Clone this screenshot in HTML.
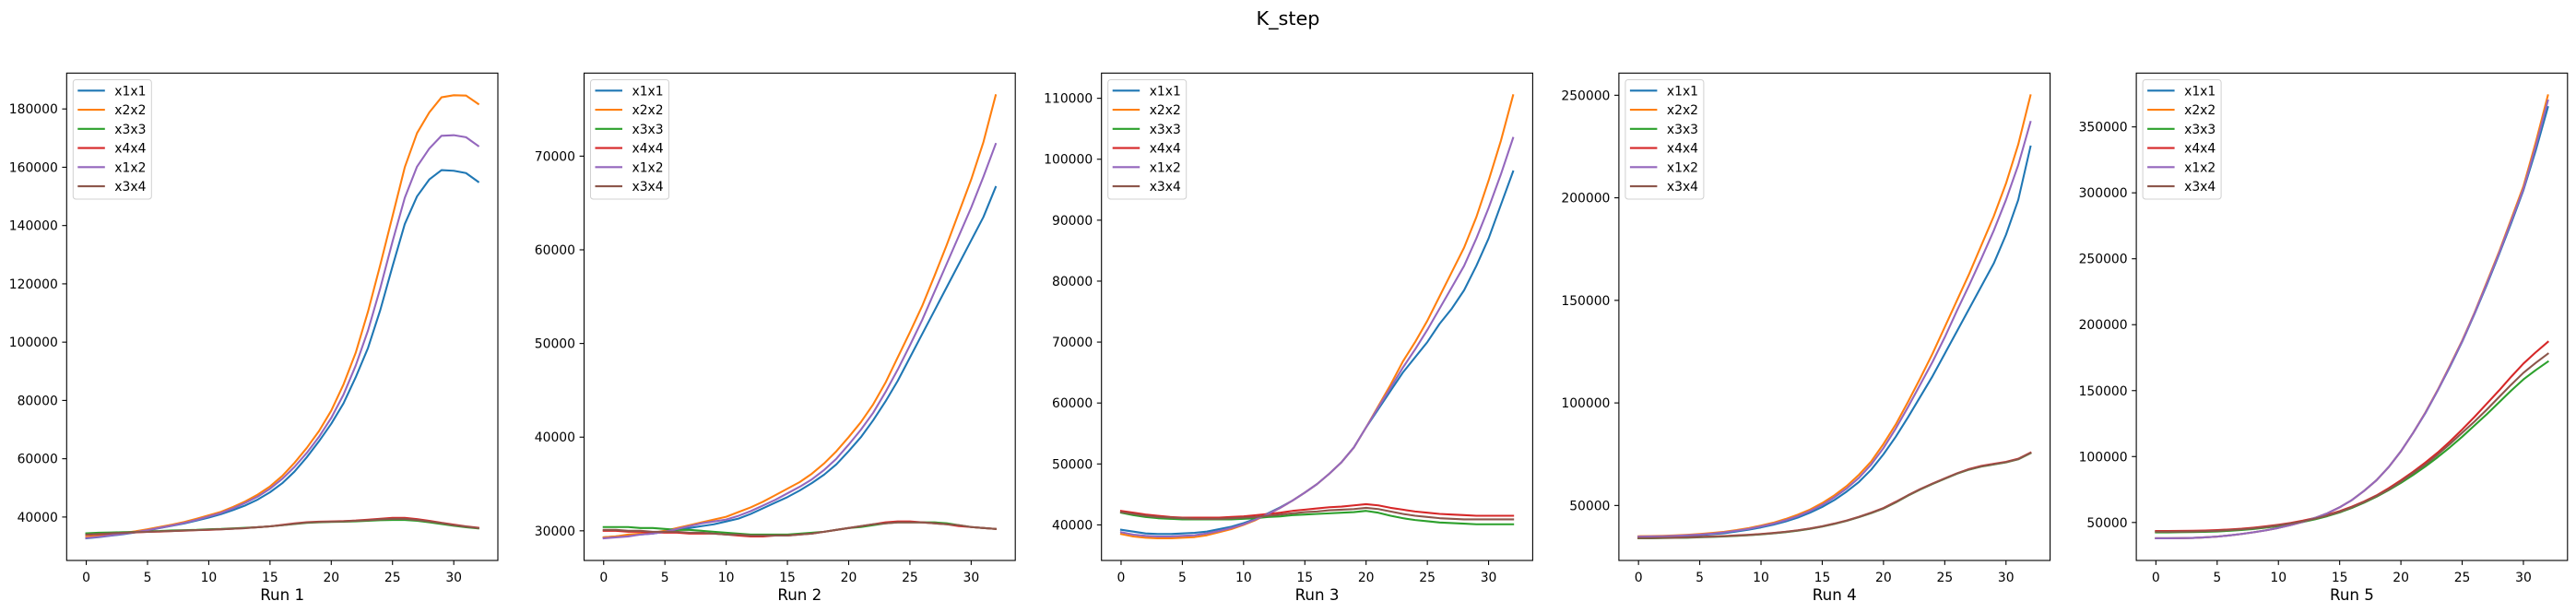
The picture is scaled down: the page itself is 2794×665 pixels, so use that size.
<!DOCTYPE html>
<html><head><meta charset="utf-8">
<style>
html,body{margin:0;padding:0;background:#fff;}
svg{display:block;font-family:"DejaVu Sans","Liberation Sans",sans-serif;}
</style></head>
<body>
<svg id="fig" width="2794" height="665" viewBox="0 0 2794 665" xmlns="http://www.w3.org/2000/svg">
<rect width="2794" height="665" fill="#fff"/>
<text x="1397" y="27" font-size="20.8" text-anchor="middle" fill="#000">K_step</text>
</svg>
<script>
const seriesNames = ["x1x1","x2x2","x3x3","x4x4","x1x2","x3x4"];
const seriesColors = ["#1f77b4","#ff7f0e","#2ca02c","#d62728","#9467bd","#8c564b"];
const xTicks = [0,5,10,15,20,25,30];
const runLabels = ["Run 1","Run 2","Run 3","Run 4","Run 5"];
const yTicksRun1 = [40000,60000,80000,100000,120000,140000,160000,180000];
const yTicksRun2 = [30000,40000,50000,60000,70000];
const yTicksRun3 = [40000,50000,60000,70000,80000,90000,100000,110000];
const yTicksRun4 = [50000,100000,150000,200000,250000];
const yTicksRun5 = [50000,100000,150000,200000,250000,300000,350000];

const run1 = [
 [32700,33100,33600,34100,34700,35400,36200,37000,37800,38800,39800,41000,42400,44000,46000,48500,51600,55600,60500,66000,72000,79000,88000,98000,111000,126000,140500,150000,155800,159000,158800,158000,155000],
 [33200,33500,34000,34500,35100,35800,36600,37400,38300,39400,40600,41800,43500,45400,47700,50500,54100,58600,63700,69500,76500,85500,96400,110500,126500,143200,160000,171700,178800,184000,184700,184600,181700],
 [34400,34600,34700,34800,34900,35100,35200,35400,35500,35600,35800,35900,36100,36300,36500,36800,37200,37600,38000,38200,38300,38400,38500,38700,38900,39000,39000,38700,38200,37600,37000,36500,36100],
 [33900,34100,34300,34500,34700,34900,35000,35200,35300,35500,35600,35800,36000,36200,36500,36800,37300,37800,38200,38400,38500,38600,38800,39100,39400,39700,39700,39300,38700,38000,37400,36800,36300],
 [32800,33200,33700,34200,34800,35500,36300,37100,38000,39000,40200,41400,43000,44900,47000,49700,53100,57200,62000,67500,74000,82000,92000,104000,118500,134500,149500,160200,166400,170800,171000,170300,167300],
 [34000,34200,34400,34600,34800,34900,35100,35200,35400,35500,35700,35800,36000,36200,36500,36800,37200,37700,38100,38300,38400,38500,38700,38900,39200,39400,39400,39000,38500,37900,37200,36700,36200]
];
const run2 = [
 [29300,29400,29500,29600,29700,29900,30100,30300,30500,30700,31000,31300,31800,32400,33000,33600,34300,35100,36000,37100,38500,40000,41800,43800,46000,48500,51000,53500,56000,58500,61000,63500,66700],
 [29300,29400,29600,29700,29800,30000,30300,30600,30900,31200,31500,32000,32500,33100,33800,34500,35200,36100,37200,38500,40000,41600,43500,45800,48500,51200,54000,57200,60500,64000,67500,71500,76500],
 [30400,30400,30400,30300,30300,30200,30100,30100,30000,29900,29800,29700,29600,29600,29600,29600,29700,29800,29900,30100,30300,30400,30600,30800,30900,30900,30900,30900,30800,30600,30400,30300,30200],
 [30000,30000,29900,29900,29800,29800,29800,29700,29700,29700,29600,29500,29400,29400,29500,29500,29600,29700,29900,30100,30300,30500,30700,30900,31000,31000,30900,30800,30700,30500,30400,30300,30200],
 [29200,29300,29400,29600,29700,29900,30200,30500,30800,31000,31200,31600,32100,32700,33300,34000,34700,35500,36500,37700,39200,40800,42600,44800,47200,49800,52500,55500,58500,61500,64500,67800,71300],
 [30100,30100,30000,30000,29900,29900,29900,29800,29800,29700,29600,29600,29500,29500,29500,29500,29600,29700,29900,30100,30300,30500,30700,30800,30900,30900,30900,30800,30700,30600,30400,30300,30200]
];
const run3 = [
 [39200,38900,38600,38500,38500,38600,38700,38900,39300,39700,40300,41000,41900,42900,44000,45300,46700,48400,50300,52700,56000,59000,62000,65000,67500,70000,73000,75500,78500,82500,87000,92500,98000],
 [38500,38100,37900,37800,37800,37900,38000,38300,38800,39300,40000,40800,41800,42800,44000,45300,46700,48400,50300,52700,56000,59500,63000,66800,70000,73500,77500,81500,85500,90500,96500,103000,110500],
 [42000,41600,41300,41100,41000,40900,40900,40900,40900,40900,41000,41100,41300,41400,41600,41700,41800,41900,42000,42100,42300,42000,41500,41100,40800,40600,40400,40300,40200,40100,40100,40100,40100],
 [42300,42000,41700,41500,41300,41200,41200,41200,41200,41300,41400,41600,41800,42000,42300,42500,42700,42900,43000,43200,43400,43200,42800,42500,42200,42000,41800,41700,41600,41500,41500,41500,41500],
 [38800,38400,38200,38100,38100,38200,38300,38600,39000,39500,40100,40900,41800,42800,44000,45300,46700,48400,50300,52700,56000,59300,62500,65800,68800,72000,75500,79000,82500,87000,92000,97500,103500],
 [42100,41800,41500,41300,41200,41100,41000,41000,41000,41100,41200,41300,41500,41700,41900,42100,42200,42400,42500,42600,42800,42600,42200,41800,41500,41300,41100,41000,40900,40900,40900,40900,40900]
];
const run4 = [
 [34500,34600,34700,34900,35200,35500,36000,36500,37300,38200,39300,40600,42200,44100,46500,49300,52700,56800,61500,67500,75000,83500,93000,103000,113000,124000,135000,146000,157000,168000,182000,199000,225000],
 [35000,35100,35200,35400,35700,36100,36600,37200,38000,39000,40200,41600,43400,45500,48000,51200,55000,59500,65000,71500,80000,89500,100500,112000,124000,137000,150000,163000,177000,191000,207000,226000,250000],
 [34000,34000,34100,34200,34300,34500,34700,34900,35200,35500,35900,36400,37000,37700,38600,39700,41000,42500,44300,46300,48500,51500,54800,57800,60500,63000,65500,67500,69000,70000,71000,72500,75500],
 [34200,34200,34300,34400,34500,34700,34900,35100,35400,35700,36100,36600,37200,37900,38800,39900,41200,42700,44500,46500,48800,51800,55000,58000,60700,63200,65700,67800,69300,70300,71300,72800,75800],
 [34800,34900,35000,35200,35500,35800,36300,36900,37700,38600,39800,41100,42800,44800,47300,50300,54000,58300,63500,70000,78000,87500,98000,109000,120000,132000,145000,157500,170500,184000,199000,216000,237000],
 [34100,34100,34200,34300,34400,34600,34800,35000,35300,35600,36000,36500,37100,37800,38700,39800,41100,42600,44400,46400,48600,51600,54900,57900,60600,63100,65600,67600,69100,70100,71100,72600,75600]
];
const run5 = [
 [38000,38000,38100,38300,38700,39300,40200,41300,42600,44100,45900,48000,50500,53500,57000,61500,67000,74000,82000,92000,104000,118000,133000,150000,168000,187000,208000,230000,253000,277000,302000,332000,365000],
 [38000,38000,38100,38300,38700,39300,40200,41300,42600,44100,45900,48000,50500,53500,57000,61500,67000,74000,82000,92000,104000,118000,133500,150500,169000,188000,209000,232000,255000,280000,305000,338000,374000],
 [42500,42500,42600,42700,42900,43200,43700,44300,45100,46100,47300,48700,50400,52400,54800,57600,61000,65000,69500,74500,80000,86000,92500,99500,107000,115000,123500,132000,141000,150000,158500,165500,172000],
 [43500,43500,43600,43700,43900,44200,44700,45300,46100,47100,48300,49700,51400,53400,55800,58600,62000,66000,70500,76000,82000,88500,95500,103000,111500,120500,130000,140000,150000,160500,170500,179000,187000],
 [38000,38000,38100,38300,38700,39300,40200,41300,42600,44100,45900,48000,50500,53500,57000,61500,67000,74000,82000,92000,104000,118000,133200,150200,168500,187500,208500,231000,254000,278500,303000,335000,370000],
 [43000,43000,43100,43200,43400,43700,44200,44800,45600,46600,47800,49200,50900,52900,55300,58100,61500,65500,70000,75000,81000,87500,94000,101500,109500,118000,126500,135500,145000,154500,163500,171000,178000]
];

const runs = [run1,run2,run3,run4,run5];
const yTickSets = [yTicksRun1,yTicksRun2,yTicksRun3,yTicksRun4,yTicksRun5];

const NS = "http://www.w3.org/2000/svg";
const svg = document.getElementById('fig');
function mk(tag, attrs, parent){
  const e = document.createElementNS(NS, tag);
  for (const k in attrs) e.setAttribute(k, attrs[k]);
  parent.appendChild(e);
  return e;
}
const PL = 72.3, PW = 467.7, PS = 561.2, PT = 79.3, PB = 608;

runs.forEach((run, p) => {
  const left = PL + p*PS, right = left + PW;
  const g = mk('g', {}, svg);
  
  
  const n = run[0].length;
  const xmin = 0, xmax = n-1, xr = xmax - xmin;
  const x0 = xmin - 0.05*xr, x1 = xmax + 0.05*xr;
  let ymn = Infinity, ymx = -Infinity;
  run.forEach(s => s.forEach(v => { if (v<ymn) ymn=v; if (v>ymx) ymx=v; }));
  const yr = ymx - ymn;
  const y0 = ymn - 0.05*yr, y1 = ymx + 0.05*yr;
  const X = v => left + (v - x0)/(x1 - x0)*PW;
  const Y = v => PB - (v - y0)/(y1 - y0)*(PB - PT);

  // clip
  const cp = mk('clipPath', {id:'clip'+p}, g);
  mk('rect', {x:left, y:PT, width:PW, height:PB-PT}, cp);

  // series
  const lg = mk('g', {'clip-path':'url(#clip'+p+')'}, g);
  run.forEach((s, si) => {
    const d = s.map((v,i) => (i?'L':'M') + X(i).toFixed(2) + ' ' + Y(v).toFixed(2)).join(' ');
    const path = mk('path', {d:d, fill:'none', stroke:seriesColors[si], 'stroke-width':2.08, 'stroke-linejoin':'round', 'stroke-linecap':'square'}, lg);
    
    
  });

  // frame
  const fr = mk('rect', {x:left, y:PT, width:PW, height:PB-PT, fill:'none', stroke:'#000', 'stroke-width':1.1}, g);
  
  

  // x ticks
  xTicks.forEach(t => {
    const xx = X(t);
    mk('line', {x1:xx, x2:xx, y1:PB, y2:PB+4.9, stroke:'#000', 'stroke-width':1.1}, g);
    const tl = mk('text', {x:xx, y:PB+23, 'font-size':13.9, 'text-anchor':'middle', fill:'#000'}, g);
    
    
    tl.textContent = t;
  });
  // y ticks
  yTickSets[p].forEach(t => {
    const yy = Y(t);
    mk('line', {x1:left-4.9, x2:left, y1:yy, y2:yy, stroke:'#000', 'stroke-width':1.1}, g);
    const tl = mk('text', {x:left-9.5, y:yy+5, 'font-size':13.9, 'text-anchor':'end', fill:'#000'}, g);
    
    
    tl.textContent = t;
  });
  // x label
  const xl = mk('text', {x:left+PW/2, y:651, 'font-size':16.7, 'text-anchor':'middle', fill:'#000'}, g);
  
  
  xl.textContent = runLabels[p];

  // legend
  const leg = mk('g', {}, g);
  
  
  mk('rect', {x:left+7, y:86.5, width:85, height:129.5, rx:3, fill:'#fff', 'fill-opacity':0.8, stroke:'#d0d0d0', 'stroke-width':1}, leg);
  seriesNames.forEach((nm, si) => {
    const yy = 98.3 + si*20.75;
    const ent = mk('g', {}, leg);
    
    
    mk('line', {x1:left+12, x2:left+41.5, y1:yy, y2:yy, stroke:seriesColors[si], 'stroke-width':2.08}, ent);
    const t = mk('text', {x:left+52, y:yy+5, 'font-size':13.9, fill:'#000'}, ent);
    t.textContent = nm;
  });
});
</script>
</body></html>
